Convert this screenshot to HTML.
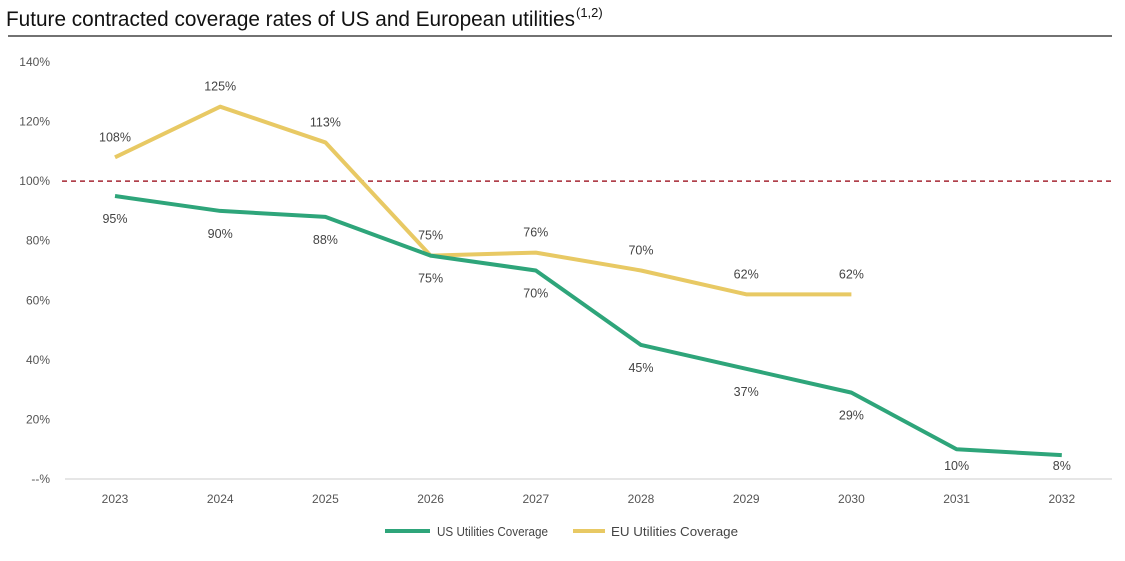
<!DOCTYPE html>
<html><head><meta charset="utf-8"><style>
html,body{margin:0;padding:0;background:#fff;}
svg{display:block;font-family:"Liberation Sans",sans-serif;}
</style></head><body>
<svg id="chart" width="1125" height="561">
<text x="6" y="26" font-size="21" fill="#111" textLength="569" lengthAdjust="spacingAndGlyphs">Future contracted coverage rates of US and European utilities</text>
<text x="576" y="17" font-size="13" fill="#111">(1,2)</text>
<line x1="8" y1="36" x2="1112" y2="36" stroke="#444" stroke-width="1.5"/>
<g id="yaxis"></g>
<g id="xaxis"></g>
<line id="ref" stroke="#a52532" stroke-width="1.5" stroke-dasharray="5,4"/>
<g id="series"></g>
<g>
<line x1="385" y1="531" x2="430" y2="531" stroke="#2ea57a" stroke-width="4"/>
<text x="437" y="536" font-size="13" fill="#444" textLength="111" lengthAdjust="spacingAndGlyphs">US Utilities Coverage</text>
<line x1="573" y1="531" x2="605" y2="531" stroke="#e8c964" stroke-width="4"/>
<text x="611" y="536" font-size="13" fill="#444" textLength="127" lengthAdjust="spacingAndGlyphs">EU Utilities Coverage</text>
</g>
</svg>
<script>
const categories=["2023","2024","2025","2026","2027","2028","2029","2030","2031","2032"];
const usValues=[95,90,88,75,70,45,37,29,10,8];
const euValues=[108,125,113,75,76,70,62,62];
const yTicks=[0,20,40,60,80,100,120,140];
const yTickLabels=["--%","20%","40%","60%","80%","100%","120%","140%"];
const refValue=100;
const NS="http://www.w3.org/2000/svg";
const x=i=>115+i*105.2;
const y=v=>479-v*(417/140);
function mk(tag,attrs,parent,txt){const e=document.createElementNS(NS,tag);for(const k in attrs)e.setAttribute(k,attrs[k]);if(txt!==undefined)e.textContent=txt;parent.appendChild(e);return e;}
const ya=document.getElementById('yaxis'),xa=document.getElementById('xaxis'),se=document.getElementById('series');
yTicks.forEach((t,i)=>{const e=mk('text',{x:50,y:y(t)+4,'font-size':12,fill:'#555','text-anchor':'end'},ya,yTickLabels[i]);

});
const base=mk('line',{x1:65,x2:1112,y1:y(0),y2:y(0),stroke:'#ccc','stroke-width':1},xa);


categories.forEach((c,i)=>{const e=mk('text',{x:x(i),y:503,'font-size':12,fill:'#555','text-anchor':'middle'},xa,c);

});
const r=document.getElementById('ref');r.setAttribute('x1',62);r.setAttribute('x2',1112);r.setAttribute('y1',y(refValue));r.setAttribute('y2',y(refValue));
function draw(vals,color,name,dy){const g=mk('g',{},se);


const p=mk('polyline',{points:vals.map((v,i)=>x(i)+','+y(v)).join(' '),fill:'none',stroke:color,'stroke-width':4,'stroke-linejoin':'round'},g);


vals.forEach((v,i)=>{let ly=y(v)+dy; if(dy>0) ly=Math.min(ly,470);
const t=mk('text',{x:x(i),y:ly,'font-size':12.5,fill:'#444','text-anchor':'middle'},g,v+'%');

});}
draw(euValues,'#e8c964','eu',-16);
draw(usValues,'#2ea57a','us',27);
</script>
</body></html>
